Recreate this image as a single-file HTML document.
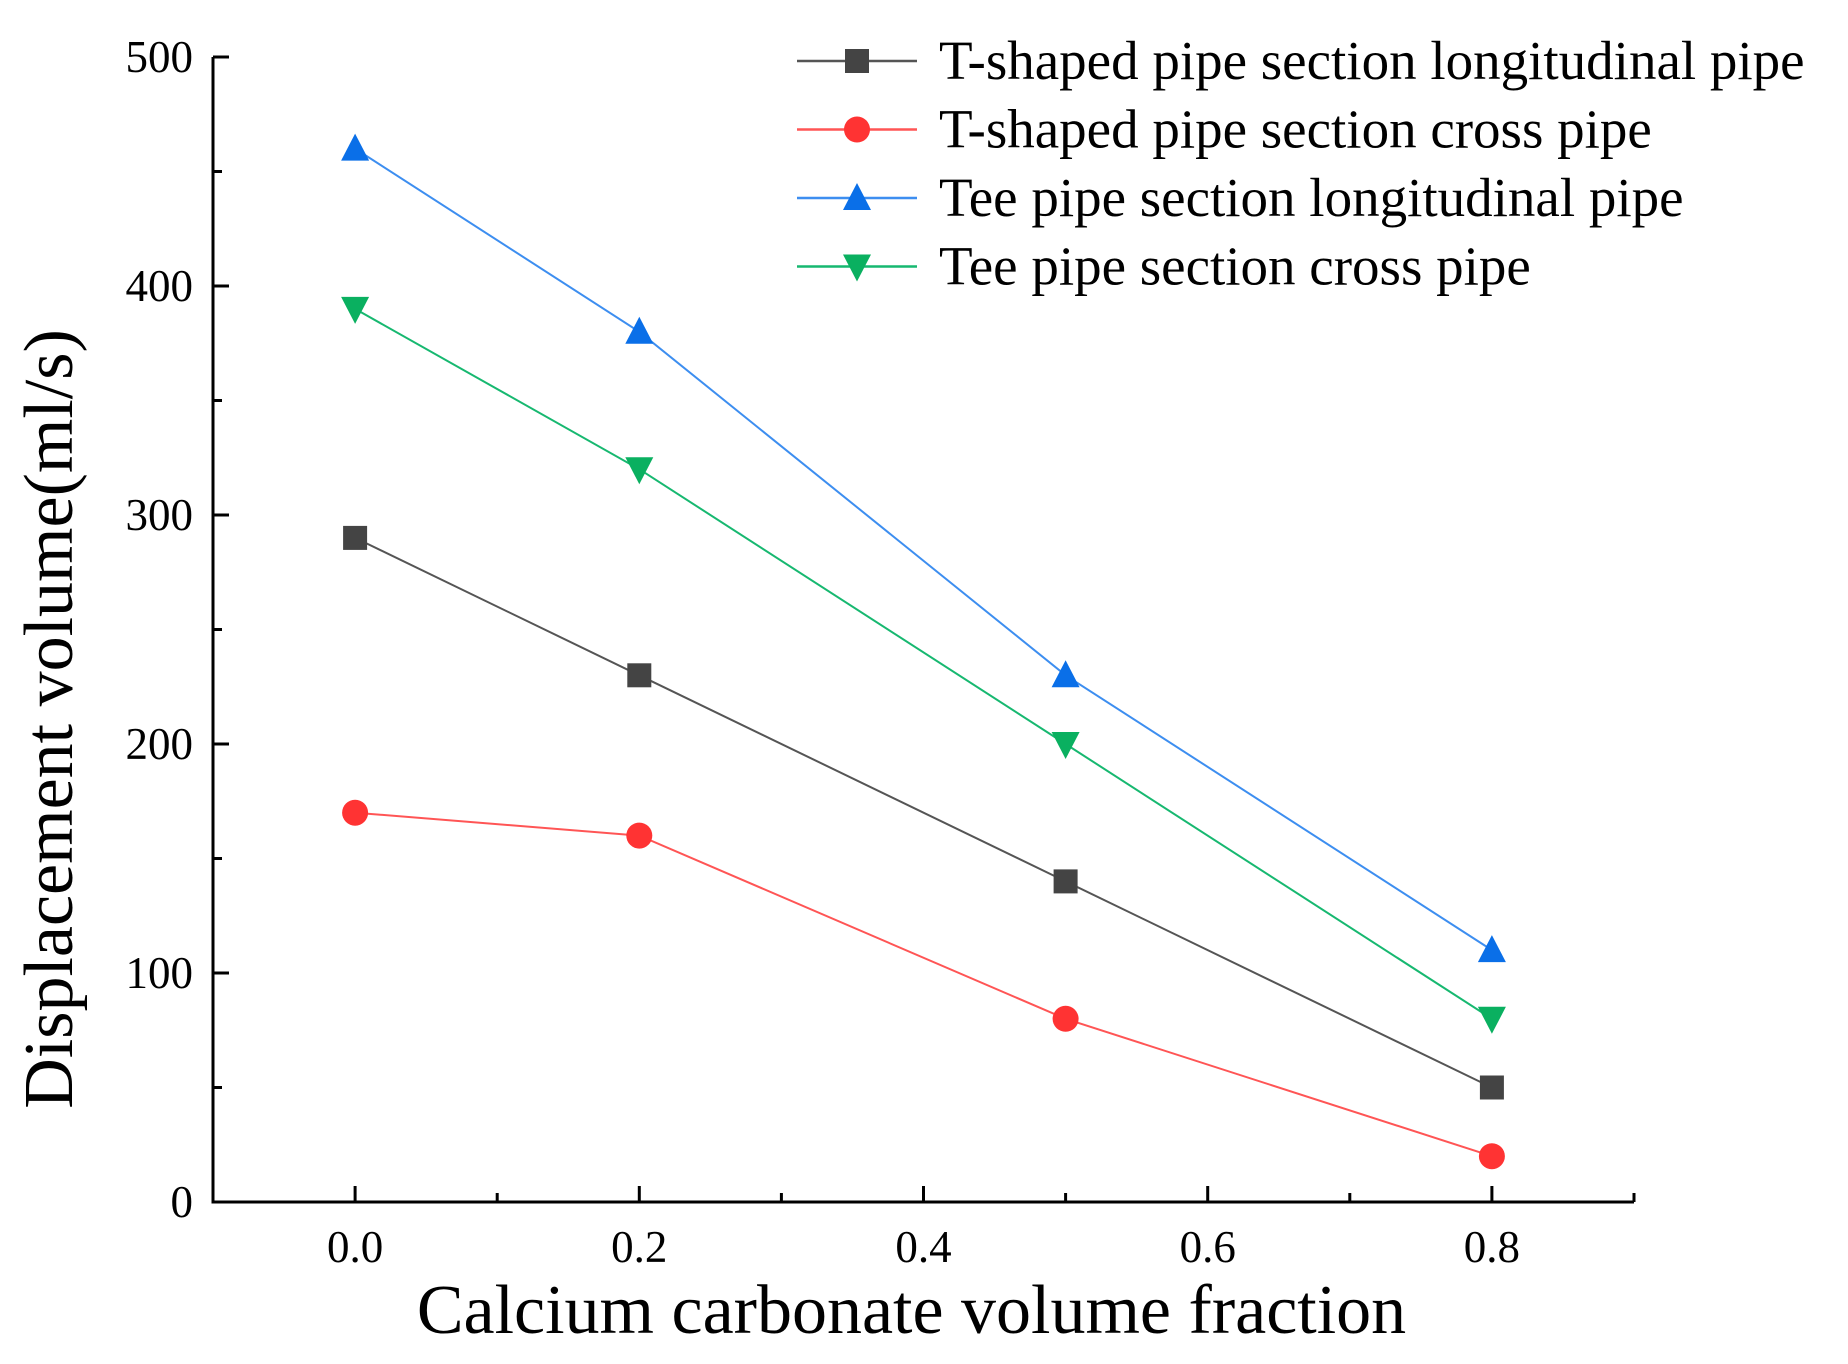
<!DOCTYPE html>
<html><head><meta charset="utf-8"><style>
html,body{margin:0;padding:0;background:#fff}
svg{display:block}
text{font-family:"Liberation Serif",serif;fill:#000}
</style></head><body>
<svg id="chart" width="1848" height="1364" viewBox="0 0 1848 1364" xmlns="http://www.w3.org/2000/svg"></svg>
<script>
const xValues = [0, 0.2, 0.5, 0.8];
const seriesNames = ["T-shaped pipe section longitudinal pipe","T-shaped pipe section cross pipe","Tee pipe section longitudinal pipe","Tee pipe section cross pipe"];
const seriesA = [290, 230, 140, 50];
const seriesB = [170, 160, 80, 20];
const seriesC = [460, 380, 230, 110];
const seriesD = [390, 320, 200, 80];
const xTicks = ["0.0","0.2","0.4","0.6","0.8"];
const xTickVals = [0, 0.2, 0.4, 0.6, 0.8];
const yTicks = ["0","100","200","300","400","500"];
const yTickVals = [0, 100, 200, 300, 400, 500];

const NS = "http://www.w3.org/2000/svg";
const svg = document.getElementById('chart');
const L = 213, R = 1634, T = 57, B = 1202;
const xMin = -0.1, xMax = 0.9, yMin = 0, yMax = 500;
function sx(v){return L + (v - xMin) / (xMax - xMin) * (R - L);}
function sy(v){return B - (v - yMin) / (yMax - yMin) * (B - T);}
function mk(tag, attrs){const e = document.createElementNS(NS, tag); for (const k in attrs) e.setAttribute(k, attrs[k]); svg.appendChild(e); return e;}

let e = mk('line', {x1:L, y1:B, x2:R, y2:B, stroke:'#000', 'stroke-width':3});


e = mk('line', {x1:L, y1:B+1.5, x2:L, y2:T, stroke:'#000', 'stroke-width':3});



xTickVals.forEach((v, i) => {
  const t = mk('line', {x1:sx(v), y1:B, x2:sx(v), y2:B-16, stroke:'#000', 'stroke-width':3});
  
  
  const m = mk('line', {x1:sx(v+0.1), y1:B, x2:sx(v+0.1), y2:B-9, stroke:'#000', 'stroke-width':3});
  
  
  const l = mk('text', {x:sx(v), y:B+60, 'font-size':45, 'text-anchor':'middle'});
  l.textContent = xTicks[i];
  
  
});
yTickVals.forEach((v, i) => {
  const t = mk('line', {x1:L, y1:sy(v), x2:L+16, y2:sy(v), stroke:'#000', 'stroke-width':3});
  
  
  if (v < 500) {
    const m = mk('line', {x1:L, y1:sy(v+50), x2:L+9, y2:sy(v+50), stroke:'#000', 'stroke-width':3});
    
    
  }
  const l = mk('text', {x:L-20, y:sy(v)+15, 'font-size':45, 'text-anchor':'end'});
  l.textContent = yTicks[i];
  
  
});

e = mk('text', {x:(L+R)/2 - 12, y:1333, 'font-size':70, 'text-anchor':'middle'});
e.textContent = 'Calcium carbonate volume fraction';


e = mk('text', {x:0, y:0, 'font-size':70, 'text-anchor':'middle', transform:'translate(72,719) rotate(-90)'});
e.textContent = 'Displacement volume(ml/s)';



function marker(shape, cx, cy, color){
  const s = 13;
  let m;
  if (shape === 'square') m = mk('rect', {x:cx-s+1, y:cy-s+1, width:2*s-2, height:2*s-2, fill:color});
  else if (shape === 'circle') m = mk('circle', {cx:cx, cy:cy, r:s, fill:color});
  else if (shape === 'up') m = mk('polygon', {points:`${cx},${cy-s-2} ${cx+s+1},${cy+s-1} ${cx-s-1},${cy+s-1}`, fill:color});
  else m = mk('polygon', {points:`${cx},${cy+s+2} ${cx+s+1},${cy-s+1} ${cx-s-1},${cy-s+1}`, fill:color});
  return m;
}

const allSeries = [seriesA, seriesB, seriesC, seriesD];
const lineColors = ['#555555','#ff5555','#3d8ef0','#17b870'];
const markColors = ['#444444','#ff3333','#0a6fe8','#0ab060'];
const shapes = ['square','circle','up','down'];
const ids = ['t-longitudinal','t-cross','tee-longitudinal','tee-cross'];

allSeries.forEach((vals, si) => {
  const pts = vals.map((v, i) => sx(xValues[i]) + ',' + sy(v)).join(' ');
  const pl = mk('polyline', {points:pts, fill:'none', stroke:lineColors[si], 'stroke-width':2});
  
  
  vals.forEach((v, i) => {
    const m = marker(shapes[si], sx(xValues[i]), sy(v), markColors[si]);
    
    
  });
  const ly = 61 + si * 68.5;
  const ll = mk('line', {x1:797, y1:ly, x2:917, y2:ly, stroke:lineColors[si], 'stroke-width':2.5});
  
  
  const lm = marker(shapes[si], 857, ly, markColors[si]);
  
  
  const lt = mk('text', {x:939, y:ly+18, 'font-size':55});
  lt.textContent = seriesNames[si];
  
  
});
</script>
</body></html>
